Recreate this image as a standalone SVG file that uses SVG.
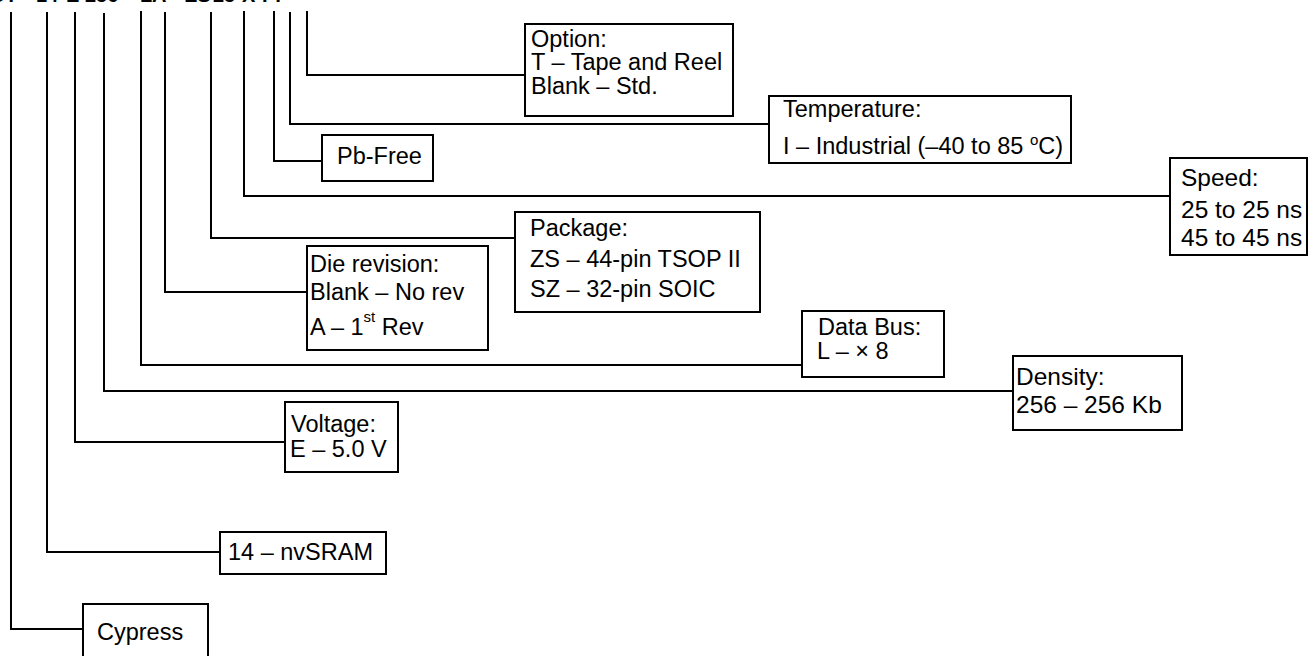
<svg xmlns="http://www.w3.org/2000/svg" width="1308" height="656" viewBox="0 0 1308 656">
<style>
.bg{fill:#fff}
.box{fill:#fff;stroke:#000;stroke-width:2}
.ln{fill:none;stroke:#000;stroke-width:2}
text{font-family:"Liberation Sans",Arial,sans-serif;font-size:23.5px;fill:#000}
.lg{font-size:24.5px}
.pn{font-weight:bold;font-size:20px}
.sup{font-size:15px}
</style>
<rect class="bg" x="0" y="0" width="1308" height="656"/>
<text class="pn" y="2"><tspan x="-10">CY</tspan><tspan x="36">14</tspan><tspan x="66">E</tspan><tspan x="85">256</tspan><tspan x="140">L</tspan><tspan x="152">A</tspan><tspan x="172">-</tspan><tspan x="185">ZS</tspan><tspan x="213">25</tspan><tspan x="242">X</tspan><tspan x="262">I</tspan><tspan x="272">T</tspan></text>
<g id="connectors">
<polyline class="ln" points="11,12 11,629 83,629"/>
<polyline class="ln" points="47,12 47,552 220,552"/>
<polyline class="ln" points="75,12 75,442 285,442"/>
<polyline class="ln" points="104,13 104,391 1013,391"/>
<polyline class="ln" points="141,11 141,365 802,365"/>
<polyline class="ln" points="165,12 165,292 307,292"/>
<polyline class="ln" points="211,12 211,238 515,238"/>
<polyline class="ln" points="244,11 244,196 1170,196"/>
<polyline class="ln" points="274,11 274,161 322,161"/>
<polyline class="ln" points="290,12 290,124 769,124"/>
<polyline class="ln" points="307,11 307,75 525,75"/>
</g>
<g id="option">
<rect class="box" x="525" y="24" width="208" height="92"/>
<text x="531" y="47">Option:</text>
<text x="531" y="70">T – Tape and Reel</text>
<text x="531" y="94">Blank – Std.</text>
</g>
<g id="temperature">
<rect class="box" x="769" y="96" width="302" height="67"/>
<text x="783" y="117">Temperature:</text>
<text x="783" y="154">I – Industrial (–40 to 85 <tspan class="sup" dy="-9">o</tspan><tspan dy="9">C)</tspan></text>
</g>
<g id="pbfree">
<rect class="box" x="322" y="135" width="111" height="46"/>
<text x="337" y="164">Pb-Free</text>
</g>
<g id="speed">
<rect class="box" x="1170" y="158" width="137" height="97"/>
<text class="lg" x="1181" y="186">Speed:</text>
<text class="lg" x="1181" y="218">25 to 25 ns</text>
<text class="lg" x="1181" y="246">45 to 45 ns</text>
</g>
<g id="package">
<rect class="box" x="515" y="212" width="245" height="100"/>
<text x="530" y="236">Package:</text>
<text x="530" y="267">ZS – 44-pin TSOP II</text>
<text x="530" y="297">SZ – 32-pin SOIC</text>
</g>
<g id="dierevision">
<rect class="box" x="307" y="246" width="181" height="104"/>
<text x="310" y="272">Die revision:</text>
<text x="310" y="300">Blank – No rev</text>
<text x="310" y="335">A – 1<tspan class="sup" dy="-13">st</tspan><tspan dy="13"> Rev</tspan></text>
</g>
<g id="databus">
<rect class="box" x="802" y="311" width="142" height="66"/>
<text x="818" y="335">Data Bus:</text>
<text x="817" y="359">L – × 8</text>
</g>
<g id="density">
<rect class="box" x="1013" y="356" width="169" height="74"/>
<text class="lg" x="1016" y="385">Density:</text>
<text class="lg" x="1016" y="413">256 – 256 Kb</text>
</g>
<g id="voltage">
<rect class="box" x="285" y="402" width="113" height="70"/>
<text x="291" y="432">Voltage:</text>
<text x="290" y="457">E – 5.0 V</text>
</g>
<g id="nvsram">
<rect class="box" x="220" y="532" width="166" height="42"/>
<text x="228" y="560">14 – nvSRAM</text>
</g>
<g id="cypress">
<rect class="box" x="83" y="604" width="125" height="60"/>
<text x="97" y="640">Cypress</text>
</g>
</svg>
